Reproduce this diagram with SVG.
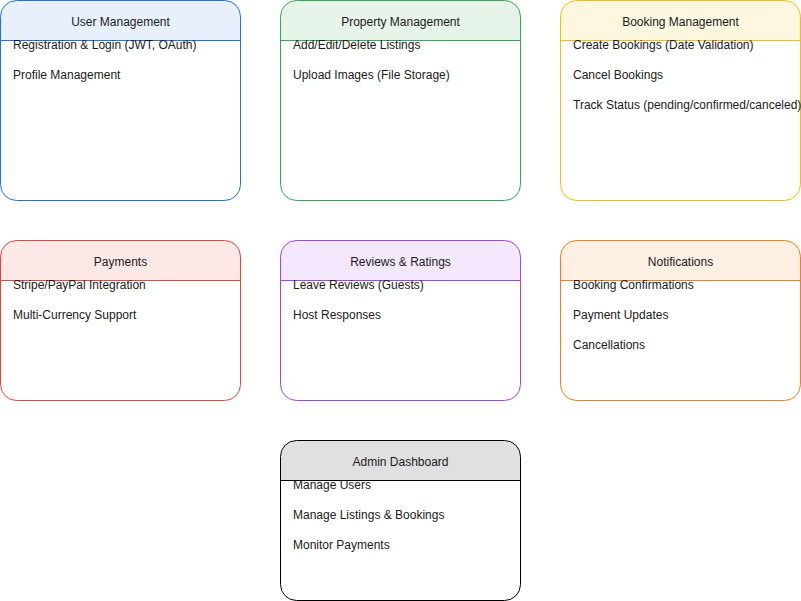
<svg xmlns="http://www.w3.org/2000/svg" width="801" height="601" viewBox="0 0 801 601">
<style>
text{font-family:"Liberation Sans",Arial,sans-serif;font-size:12px;fill:#1a1a1a}
.h{text-anchor:middle}
.box{fill:#fff;stroke-width:1}
.line{stroke-width:1}
</style>
<rect width="801" height="601" fill="#fff"/>
<g id="user-management">
<path d="M0.5,40.5 V16.5 A16,16 0 0 1 16.5,0.5 H224.5 A16,16 0 0 1 240.5,16.5 V40.5 Z" fill="#e8f0fd"/>
<rect x="0.5" y="0.5" width="240" height="200" rx="16" fill="none" stroke="#1a73e8"/>
<line x1="0.5" y1="40.5" x2="240.5" y2="40.5" stroke="#1a73e8"/>
<text class="h" x="120.5" y="26">User Management</text>
<text x="13" y="49">Registration &amp; Login (JWT, OAuth)</text>
<text x="13" y="79">Profile Management</text>
</g>
<g id="property-management">
<path d="M280.5,40.5 V16.5 A16,16 0 0 1 296.5,0.5 H504.5 A16,16 0 0 1 520.5,16.5 V40.5 Z" fill="#e6f4ea"/>
<rect x="280.5" y="0.5" width="240" height="200" rx="16" fill="none" stroke="#34a853"/>
<line x1="280.5" y1="40.5" x2="520.5" y2="40.5" stroke="#34a853"/>
<text class="h" x="400.5" y="26">Property Management</text>
<text x="293" y="49">Add/Edit/Delete Listings</text>
<text x="293" y="79">Upload Images (File Storage)</text>
</g>
<g id="booking-management">
<path d="M560.5,40.5 V16.5 A16,16 0 0 1 576.5,0.5 H784.5 A16,16 0 0 1 800.5,16.5 V40.5 Z" fill="#fef7e0"/>
<rect x="560.5" y="0.5" width="240" height="200" rx="16" fill="none" stroke="#fbbc04"/>
<line x1="560.5" y1="40.5" x2="800.5" y2="40.5" stroke="#fbbc04"/>
<text class="h" x="680.5" y="26">Booking Management</text>
<text x="573" y="49">Create Bookings (Date Validation)</text>
<text x="573" y="79">Cancel Bookings</text>
<text x="573" y="109">Track Status (pending/confirmed/canceled)</text>
</g>
<g id="payments">
<path d="M0.5,280.5 V256.5 A16,16 0 0 1 16.5,240.5 H224.5 A16,16 0 0 1 240.5,256.5 V280.5 Z" fill="#fce8e6"/>
<rect x="0.5" y="240.5" width="240" height="160" rx="16" fill="none" stroke="#ea4335"/>
<line x1="0.5" y1="280.5" x2="240.5" y2="280.5" stroke="#ea4335"/>
<text class="h" x="120.5" y="266">Payments</text>
<text x="13" y="289">Stripe/PayPal Integration</text>
<text x="13" y="319">Multi-Currency Support</text>
</g>
<g id="reviews-ratings">
<path d="M280.5,280.5 V256.5 A16,16 0 0 1 296.5,240.5 H504.5 A16,16 0 0 1 520.5,256.5 V280.5 Z" fill="#f3e8fd"/>
<rect x="280.5" y="240.5" width="240" height="160" rx="16" fill="none" stroke="#a142f4"/>
<line x1="280.5" y1="280.5" x2="520.5" y2="280.5" stroke="#a142f4"/>
<text class="h" x="400.5" y="266">Reviews &amp; Ratings</text>
<text x="293" y="289">Leave Reviews (Guests)</text>
<text x="293" y="319">Host Responses</text>
</g>
<g id="notifications">
<path d="M560.5,280.5 V256.5 A16,16 0 0 1 576.5,240.5 H784.5 A16,16 0 0 1 800.5,256.5 V280.5 Z" fill="#feefe3"/>
<rect x="560.5" y="240.5" width="240" height="160" rx="16" fill="none" stroke="#fa7b17"/>
<line x1="560.5" y1="280.5" x2="800.5" y2="280.5" stroke="#fa7b17"/>
<text class="h" x="680.5" y="266">Notifications</text>
<text x="573" y="289">Booking Confirmations</text>
<text x="573" y="319">Payment Updates</text>
<text x="573" y="349">Cancellations</text>
</g>
<g id="admin-dashboard">
<path d="M280.5,480.5 V456.5 A16,16 0 0 1 296.5,440.5 H504.5 A16,16 0 0 1 520.5,456.5 V480.5 Z" fill="#e0e0e0"/>
<rect x="280.5" y="440.5" width="240" height="160" rx="16" fill="none" stroke="#000"/>
<line x1="280.5" y1="480.5" x2="520.5" y2="480.5" stroke="#000"/>
<text class="h" x="400.5" y="466">Admin Dashboard</text>
<text x="293" y="489">Manage Users</text>
<text x="293" y="519">Manage Listings &amp; Bookings</text>
<text x="293" y="549">Monitor Payments</text>
</g>
<g id="connectors"></g>
</svg>
